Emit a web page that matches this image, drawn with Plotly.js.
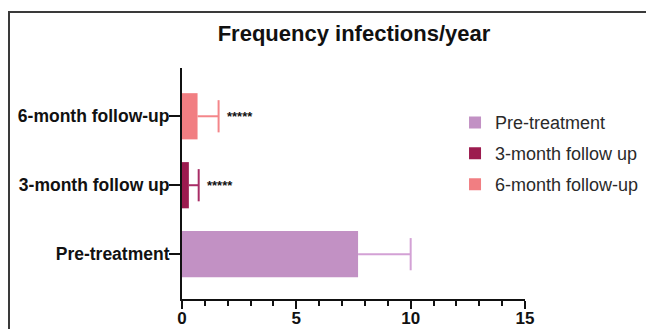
<!DOCTYPE html>
<html>
<head>
<meta charset="utf-8">
<script src="https://cdn.plot.ly/plotly-3.0.1.min.js"></script>
<style>
  html, body { margin: 0; padding: 0; background: #fff; }
  #wrap { position: relative; width: 646px; height: 329px; overflow: hidden; }
  #chart { position: absolute; left: 0; top: 0; width: 646px; height: 329px; }
  #frame { position: absolute; left: 8px; top: 11px; width: 700px; height: 400px;
           border-left: 2px solid #3a3a3a; border-top: 2px solid #3a3a3a; pointer-events: none; }
</style>
</head>
<body>
<div id="wrap">
  <div id="chart"></div>
  <div id="frame"></div>
</div>
<script>
// Data
const categories = ['Pre-treatment', '3-month follow up', '6-month follow-up'];
const means = [7.7, 0.3, 0.68];
const sdPlus = [2.3, 0.43, 0.92];
const significance = ['', '*****', '*****'];
const xTickVals = [0, 5, 10, 15];

// Styling
const barColors = ['#C291C4', '#9C1B4F', '#F17E82'];
const errColors = ['#D3A1D5', '#A82D66', '#F4868A'];
const FONT = 'Arial, "Liberation Sans", sans-serif';

const traces = [];
categories.forEach((c, i) => {
  traces.push({
    type: 'bar',
    orientation: 'h',
    name: c,
    x: [means[i]],
    y: [c],
    width: 0.67,
    marker: { color: barColors[i], line: { width: 0 } },
    error_x: { type: 'data', symmetric: false, array: [sdPlus[i]], arrayminus: [0],
               color: errColors[i], thickness: 2, width: 0 },
    legendgroup: 'g' + i,
    hoverinfo: 'skip'
  });
});
// caps at the end of each error bar
categories.forEach((c, i) => {
  traces.push({
    type: 'scatter',
    mode: 'markers',
    x: [means[i] + sdPlus[i]],
    y: [c],
    marker: { symbol: 'line-ns-open', size: 23, line: { width: 2, color: errColors[i] }, color: errColors[i] },
    showlegend: false,
    hoverinfo: 'skip'
  });
});

const annotations = categories.map((c, i) => ({
  x: means[i] + sdPlus[i],
  y: c,
  xref: 'x', yref: 'y',
  text: significance[i],
  showarrow: false,
  xanchor: 'left',
  yanchor: 'middle',
  xshift: 6,
  yshift: 0,
  font: { family: FONT, size: 13, color: '#111', weight: 'bold' }
})).filter(a => a.text);

const layout = {
  width: 646,
  height: 329,
  margin: { l: 182, r: 121, t: 68, b: 30, pad: 0, autoexpand: false },
  paper_bgcolor: 'rgba(0,0,0,0)',
  plot_bgcolor: 'rgba(0,0,0,0)',
  barmode: 'overlay',
  showlegend: true,
  title: {
    text: 'Frequency infections/year',
    x: 0.548, xanchor: 'center',
    y: 0.9, yanchor: 'middle',
    font: { family: FONT, size: 22, color: '#111', weight: 'bold' }
  },
  xaxis: {
    range: [0, 15],
    tickvals: xTickVals,
    ticktext: xTickVals.map(String),
    ticks: 'outside', ticklen: 8, tickwidth: 2, tickcolor: '#111',
    ticklabelstandoff: -5,
    minor: { dtick: 1, ticks: 'outside', ticklen: 5, tickwidth: 2, tickcolor: '#111', showgrid: false },
    showline: true, linewidth: 2, linecolor: '#111',
    showgrid: false, zeroline: false,
    tickfont: { family: FONT, size: 17, color: '#111', weight: 'bold' },
    fixedrange: true
  },
  yaxis: {
    type: 'category',
    categoryorder: 'array',
    categoryarray: categories,
    range: [-0.65, 2.7],
    ticks: 'outside', ticklen: 11, tickwidth: 2, tickcolor: '#111',
    ticklabelstandoff: -4,
    showline: true, linewidth: 2, linecolor: '#111',
    showgrid: false, zeroline: false,
    tickfont: { family: FONT, size: 17.5, color: '#111', weight: 'bold' },
    fixedrange: true
  },
  legend: {
    x: 0.796, xanchor: 'left',
    y: 0.843, yanchor: 'top',
    traceorder: 'grouped',
    tracegroupgap: 4.5,
    bgcolor: 'rgba(0,0,0,0)',
    font: { family: FONT, size: 18, color: '#2a2a2a' }
  },
  annotations: annotations
};

Plotly.newPlot('chart', traces, layout, { displayModeBar: false, staticPlot: true });
</script>
</body>
</html>
